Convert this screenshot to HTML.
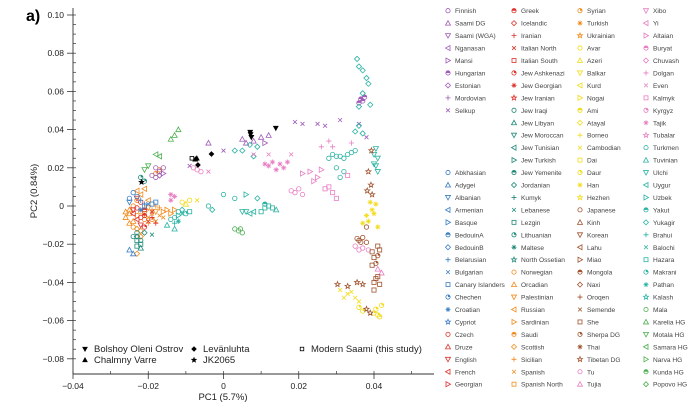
<!DOCTYPE html>
<html><head><meta charset="utf-8">
<style>
html,body{margin:0;padding:0;background:#fff;}
svg{display:block;font-family:"Liberation Sans",Arial,sans-serif;}
</style></head>
<body>
<svg id="chart" width="700" height="409" viewBox="0 0 700 409" xmlns="http://www.w3.org/2000/svg">
<text x="26" y="21" font-size="16" font-weight="bold">a)</text>
<g id="axes"></g>
<g id="points"></g>
<g id="inlegend"></g>
<g id="legend"></g>
<text x="223" y="400" font-size="9.5" text-anchor="middle" fill="#222">PC1 (5.7%)</text>
<text transform="translate(37,191) rotate(-90)" font-size="9.5" text-anchor="middle" fill="#222">PC2 (0.84%)</text>
</svg>
<script>
const xTicks = [-0.04, -0.02, 0, 0.02, 0.04];
const xTickLabels = ["\u22120.04", "\u22120.02", "0", "0.02", "0.04"];
const yTicks = [0.10, 0.08, 0.06, 0.04, 0.02, 0, -0.02, -0.04, -0.06, -0.08];
const yTickLabels = ["0.10", "0.08", "0.06", "0.04", "0.02", "0", "\u22120.02", "\u22120.04", "\u22120.06", "\u22120.08"];

const populations = ["Finnish","Saami DG","Saami (WGA)","Nganasan","Mansi","Hungarian","Estonian","Mordovian","Selkup",
"Abkhasian","Adygei","Albanian","Armenian","Basque","BedouinA","BedouinB","Belarusian","Bulgarian","Canary Islanders","Chechen","Croatian","Cypriot",
"Czech","Druze","English","French","Georgian","Greek","Icelandic","Iranian","Italian_North","Italian South","Jew Ashkenazi","Jew Georgian","Jew Iranian",
"Jew Iraqi","Jew Libyan","Jew Moroccan","Jew Tunisian","Jew Turkish","Jew Yemenite","Jordanian","Kumyk","Lebanese","Lezgin","Lithuanian","Maltese","North Ossetian",
"Norwegian","Orcadian","Palestinian","Russian","Sardinian","Saudi","Scottish","Sicilian","Spanish","Spanish North","Syrian","Turkish","Ukrainian",
"Avar","Azeri","Balkar","Kurd","Nogai","Ami","Atayal","Borneo","Cambodian","Dai","Daur","Han","Hezhen",
"Japanese","Kinh","Korean","Lahu","Miao","Mongola","Naxi","Oroqen","Semende","She","Sherpa DG","Thai","Tibetan DG",
"Tu","Tujia","Xibo","Yi","Altaian","Buryat","Chuvash","Dolgan","Even","Kalmyk","Kyrgyz","Tajik","Tubalar",
"Turkmen","Tuvinian","Ulchi","Uygur","Uzbek","Yakut","Yukagir","Brahui","Balochi","Hazara","Makrani","Pathan","Kalash",
"Mala","Karelia HG","Motala HG","Samara HG","Narva HG","Kunda HG","Popovo HG"];
const groupColors = ["#3b7fc4","#e0302a","#1f8a78","#f28a1c","#f2dc1a","#a0522d","#e87fc2","#2bb3a3","#4caf50"];
const purple = "#a05cb8";

const ptsOrange = [
 ["Orcadian",[[-0.026,-0.006],[-0.025,-0.004],[-0.024,-0.008],[-0.025,-0.002],[-0.026,-0.003],[-0.025,-0.009]]],
 ["Norwegian",[[-0.023,-0.005],[-0.022,-0.003],[-0.024,0.0],[-0.023,0.003],[-0.024,-0.011],[-0.021,-0.007]]],
 ["Spanish",[[-0.02,-0.006],[-0.019,-0.004],[-0.018,-0.008],[-0.017,-0.005],[-0.016,-0.006]]],
 ["Sardinian",[[-0.016,-0.003],[-0.015,-0.002],[-0.014,-0.004],[-0.013,-0.002]]],
 ["Sicilian",[[-0.019,-0.002],[-0.018,0.0],[-0.02,-0.009],[-0.017,-0.001]]],
 ["Russian",[[-0.022,0.006],[-0.021,0.009],[-0.02,0.003],[-0.023,0.008]]],
 ["Scottish",[[-0.023,-0.012],[-0.022,-0.016],[-0.023,-0.025],[-0.022,-0.013]]],
 ["Syrian",[[-0.018,0.017],[-0.017,0.019],[-0.019,-0.007]]],
 ["Palestinian",[[-0.021,-0.004],[-0.02,-0.001],[-0.018,-0.003]]]
];
const ptsRed = [
 ["Czech",[[-0.023,-0.001],[-0.022,0.002],[-0.022,-0.006]]],
 ["French",[[-0.024,-0.004],[-0.023,-0.007]]],
 ["English",[[-0.023,0.004],[-0.022,-0.01],[-0.024,-0.002]]],
 ["Greek",[[-0.021,-0.005],[-0.021,-0.002]]],
 ["Italian_North",[[-0.02,-0.008],[-0.019,-0.003]]],
 ["Iranian",[[-0.018,-0.009],[-0.019,-0.006]]],
 ["Jew Ashkenazi",[[-0.021,-0.011]]]
];
const ptsBlue = [
 ["Abkhasian",[[-0.024,0.007],[-0.023,0.005],[-0.025,0.004]]],
 ["Adygei",[[-0.024,-0.025],[-0.025,-0.023]]],
 ["Albanian",[[-0.025,0.002]]],
 ["Belarusian",[[-0.022,0.003],[-0.021,0.001]]],
 ["Bulgarian",[[-0.02,0.001]]],
 ["Canary Islanders",[[-0.021,0.0],[-0.019,0.001],[-0.018,0.002]]],
 ["Croatian",[[-0.022,-0.002]]]
];
const ptsDarkTeal = [
 ["Jew Iraqi",[[-0.023,-0.014],[-0.022,-0.018],[-0.024,-0.016]]],
 ["Lezgin",[[-0.023,-0.021],[-0.022,-0.02],[-0.023,-0.018]]],
 ["Jew Libyan",[[-0.022,-0.022]]],
 ["Jordanian",[[-0.023,-0.016],[-0.021,-0.014]]],
 ["Lithuanian",[[-0.022,0.015],[-0.021,0.013]]],
 ["Lebanese",[[-0.019,-0.015]]]
];
const ptsPurple = [
 ["Finnish",[[-0.018,0.02],[-0.017,0.018],[-0.019,0.016],[-0.016,0.02],[-0.018,0.015]]],
 ["Mansi",[[-0.016,0.017],[0.011,0.033]]],
 ["Estonian",[[-0.017,0.016]]],
 ["Saami DG",[[0.006,0.033],[0.008,0.034],[0.01,0.036],[0.012,0.037],[0.005,0.035],[-0.004,0.033]]],
 ["Selkup",[[0.0,0.029],[0.019,0.044],[0.021,0.043],[0.025,0.043],[0.027,0.042],[0.031,0.045],[0.036,0.043],[0.038,0.036],[-0.009,0.021]]],
 ["Hungarian",[[0.0365,0.056],[0.037,0.055],[0.0375,0.057],[0.036,0.054]]]
];
const ptsPink = [
 ["Tajik",[[-0.014,0.006],[-0.013,0.005],[-0.014,0.003],[0.012,0.021],[0.013,0.023],[0.015,0.022],[0.016,0.02],[0.017,0.023],[0.014,0.019],[0.011,0.022]]],
 ["Tu",[[-0.008,0.02],[-0.007,0.019],[-0.006,0.018],[0.019,0.007],[0.02,0.009],[0.021,0.006],[0.018,0.008],[0.035,-0.021],[0.036,-0.023],[0.037,-0.022],[0.0385,-0.023]]],
 ["Even",[[0.008,0.027],[0.012,0.027],[0.018,0.027],[-0.004,0.018]]],
 ["Altaian",[[0.021,0.017],[0.023,0.018],[0.025,0.015],[0.024,0.013],[0.026,0.019]]],
 ["Kalmyk",[[0.027,0.009],[0.029,0.007],[0.03,0.004],[0.028,0.01],[0.033,0.016]]],
 ["Dolgan",[[0.026,0.031],[0.028,0.034],[0.029,0.031],[0.034,0.033]]],
 ["Tujia",[[0.041,-0.033],[0.042,-0.035]]]
];
const ptsTeal = [
 ["Turkmen",[[-0.014,-0.007],[-0.013,-0.006],[-0.012,-0.003],[-0.004,0.0],[0.0,0.006],[0.003,0.004],[0.028,0.025],[0.029,0.027],[0.03,0.026],[0.031,0.026],[0.032,0.025],[0.033,0.027],[0.034,0.028],[0.035,0.029],[0.03,0.02],[0.032,0.018],[0.031,0.015]]],
 ["Tuvinian",[[-0.015,-0.01],[-0.013,-0.012],[0.014,-0.002]]],
 ["Uzbek",[[-0.012,-0.005],[0.006,0.006]]],
 ["Yukagir",[[-0.011,-0.002],[-0.003,-0.002],[0.009,0.004],[0.003,0.029],[0.005,0.029],[0.007,0.032],[0.008,0.026],[0.009,0.031],[0.0355,0.077],[0.036,0.073],[0.037,0.071],[0.038,0.067],[0.0385,0.064],[0.037,0.059],[0.036,0.052],[0.039,0.053],[0.036,0.042],[0.035,0.039],[0.037,0.038]]],
 ["Brahui",[[-0.013,-0.009]]],
 ["Balochi",[[-0.011,-0.004]]],
 ["Hazara",[[-0.009,-0.003],[0.011,-0.001],[0.012,0.0],[0.01,-0.003],[0.013,-0.001]]],
 ["Makrani",[[-0.01,-0.004]]],
 ["Pathan",[[-0.012,-0.008]]],
 ["Ulchi",[[0.005,-0.003],[0.006,-0.003],[0.0405,0.03],[0.04,0.027],[0.041,0.025],[0.0405,0.021],[0.041,0.018],[0.04,0.022]]],
 ["Uygur",[[0.007,-0.004],[0.008,-0.003]]],
 ["Yakut",[[0.011,0.001]]]
];
const ptsYellow = [
 ["Avar",[[-0.011,0.002],[-0.009,0.003]]],
 ["Azeri",[[-0.01,0.001]]],
 ["Cambodian",[[-0.007,0.003],[0.031,-0.044],[0.033,-0.046],[0.035,-0.048],[0.036,-0.05],[0.034,-0.045],[0.032,-0.048]]],
 ["Han",[[0.039,0.002],[0.0395,-0.002],[0.038,-0.005],[0.0385,-0.008],[0.0405,0.001],[0.04,-0.004],[0.037,-0.009],[0.041,-0.011]]],
 ["Daur",[[0.036,-0.053],[0.037,-0.055],[0.0405,-0.054],[0.041,-0.057],[0.0415,-0.058],[0.04,-0.056],[0.042,-0.052]]]
];
const ptsBrown = [
 ["Tibetan DG",[[0.0393,0.029],[0.0385,0.018],[0.0392,0.011],[0.0382,0.008],[0.0395,0.006],[0.0303,-0.041],[0.033,-0.042],[0.0355,-0.04],[0.037,-0.041],[0.038,-0.054],[0.039,-0.056]]],
 ["Japanese",[[0.0355,-0.017],[0.036,-0.018],[0.037,-0.0165],[0.038,-0.019],[0.0365,-0.019],[0.038,-0.011]]],
 ["She",[[0.0395,-0.024],[0.041,-0.021],[0.0415,-0.023],[0.04,-0.027],[0.0395,-0.031],[0.04,-0.04],[0.041,-0.037],[0.0415,-0.041],[0.04,-0.044],[0.0405,-0.038]]],
 ["Sherpa DG",[[0.041,-0.026],[0.0405,-0.03]]]
];
const ptsGreen = [
 ["Mala",[[0.003,-0.012],[0.004,-0.013],[0.005,-0.014],[0.0045,-0.012]]],
 ["Motala HG",[[-0.02,0.021],[-0.021,0.019]]],
 ["Samara HG",[[-0.018,0.027],[-0.017,0.026]]],
 ["Karelia HG",[[-0.013,0.037],[-0.012,0.04],[-0.014,0.035]]]
];
const ancientNames = ["Bolshoy Oleni Ostrov","Chalmny Varre","Levänluhta","JK2065","Modern Saami (this study)"];
const ancientPc1 = [[0.0071,0.0074,0.0139,0.0072],[-0.0071,-0.0075],[-0.0068,-0.0032],[-0.0218],[-0.0084]];
const ancientPc2 = [[0.0387,0.036,0.0408,0.0375],[0.025,0.0245],[0.0215,0.0272],[0.0125],[0.025]];

const NS="http://www.w3.org/2000/svg";
function X(v){return 73+(v+0.04)/0.08*301;}
function Y(v){return 206-v/0.01*19.1;}
function mk(tag,attrs,parent){const e=document.createElementNS(NS,tag);for(const k in attrs)e.setAttribute(k,attrs[k]);parent.appendChild(e);return e;}

function popStyle(name){
 const i=populations.indexOf(name);
 if(i<9)return {shape:i,color:purple};
 const k=i-9;return {shape:k%13,color:groupColors[Math.floor(k/13)]};
}
function marker(parent,shape,cx,cy,r,color,filled){
 const f=filled?color:"none";const sw=0.8;
 const base={fill:f,stroke:color,"stroke-width":sw};
 let e;
 const pts=a=>a.map(p=>(cx+p[0]*r).toFixed(2)+","+(cy+p[1]*r).toFixed(2)).join(" ");
 switch(shape){
 case 0:e=mk("circle",Object.assign({cx,cy,r:r*0.85},base),parent);break;
 case 1:e=mk("polygon",Object.assign({points:pts([[0,-1],[1,0.8],[-1,0.8]])},base),parent);break;
 case 2:e=mk("polygon",Object.assign({points:pts([[0,1],[1,-0.8],[-1,-0.8]])},base),parent);break;
 case 3:e=mk("polygon",Object.assign({points:pts([[-1,0],[0.8,-1],[0.8,1]])},base),parent);break;
 case 4:e=mk("polygon",Object.assign({points:pts([[1,0],[-0.8,-1],[-0.8,1]])},base),parent);break;
 case 5:{e=mk("g",{},parent);mk("circle",Object.assign({cx,cy,r:r*0.85},base),e);
   mk("path",{d:`M${cx-r*0.85},${cy} A${r*0.85},${r*0.85} 0 0 1 ${cx+r*0.85},${cy} Z`,fill:color},e);break;}
 case 6:e=mk("polygon",Object.assign({points:pts([[0,-1],[1,0],[0,1],[-1,0]])},base),parent);break;
 case 7:e=mk("path",{d:`M${cx-r},${cy}H${cx+r}M${cx},${cy-r}V${cy+r}`,stroke:color,"stroke-width":sw,fill:"none"},parent);break;
 case 8:e=mk("path",{d:`M${cx-r*0.75},${cy-r*0.75}L${cx+r*0.75},${cy+r*0.75}M${cx-r*0.75},${cy+r*0.75}L${cx+r*0.75},${cy-r*0.75}`,stroke:color,"stroke-width":sw,fill:"none"},parent);break;
 case 9:e=mk("rect",Object.assign({x:cx-r*0.8,y:cy-r*0.8,width:r*1.6,height:r*1.6},base),parent);break;
 case 10:{e=mk("g",{},parent);mk("circle",Object.assign({cx,cy,r:r*0.85},base),e);
   mk("path",{d:`M${cx},${cy} L${cx},${cy-r*0.85} A${r*0.85},${r*0.85} 0 0 1 ${cx+r*0.85},${cy} Z`,fill:color},e);break;}
 case 11:e=mk("path",{d:`M${cx-r},${cy}H${cx+r}M${cx},${cy-r}V${cy+r}M${cx-r*0.7},${cy-r*0.7}L${cx+r*0.7},${cy+r*0.7}M${cx-r*0.7},${cy+r*0.7}L${cx+r*0.7},${cy-r*0.7}`,stroke:color,"stroke-width":sw,fill:"none"},parent);break;
 case 12:{const a=[];for(let j=0;j<10;j++){const ang=-Math.PI/2+j*Math.PI/5;const rr=j%2?0.45:1.05;a.push([Math.cos(ang)*rr,Math.sin(ang)*rr]);}
   e=mk("polygon",Object.assign({points:pts(a)},base),parent);break;}
 }
 return e;
}

const ax=document.getElementById("axes");
const yl=mk("line",{x1:73,y1:8,x2:73,y2:374,stroke:"#333","stroke-width":0.9},ax);


const xl=mk("line",{x1:73,y1:374,x2:434,y2:374,stroke:"#333","stroke-width":0.9},ax);


for(let v=-0.08;v<=0.1001;v+=0.005){const y=Y(v);mk("line",{x1:73,y1:y,x2:76,y2:y,stroke:"#333","stroke-width":0.7},ax);}
for(let v=-0.04;v<=0.0501;v+=0.01){const x=X(v);mk("line",{x1:x,y1:374,x2:x,y2:371,stroke:"#333","stroke-width":0.7},ax);}
yTicks.forEach((v,i)=>{const y=Y(v);mk("line",{x1:67,y1:y,x2:73,y2:y,stroke:"#333","stroke-width":0.8},ax);
 const t=mk("text",{x:64,y:y+3,"font-size":8.5,"text-anchor":"end",fill:"#222"},ax);t.textContent=yTickLabels[i];
 
 });
xTicks.forEach((v,i)=>{const x=X(v);mk("line",{x1:x,y1:374,x2:x,y2:379,stroke:"#333","stroke-width":0.8},ax);
 const t=mk("text",{x:x,y:389,"font-size":8.5,"text-anchor":"middle",fill:"#222"},ax);t.textContent=xTickLabels[i];
 
 });

const pg=document.getElementById("points");
[ptsOrange,ptsRed,ptsBlue,ptsDarkTeal,ptsGreen,ptsPurple,ptsTeal,ptsPink,ptsYellow,ptsBrown].forEach(set=>{
 set.forEach(([name,list])=>{const st=popStyle(name);
  list.forEach(p=>{const m=marker(pg,st.shape,X(p[0]),Y(p[1]),2.6,st.color,false);
   
   });});
});
const ancShapes=[2,1,6,12,9];
ancientNames.forEach((n,i)=>{ancientPc1[i].forEach((x,j)=>{
 const m=marker(pg,ancShapes[i],X(x),Y(ancientPc2[i][j]),2.3,"#000",i!==4);
 
 });});

const il=document.getElementById("inlegend");
const ilPos=[[85,352],[85,363],[194,352],[194,363],[302,352]];
ancientNames.forEach((n,i)=>{const [x,y]=ilPos[i];
 marker(il,ancShapes[i],x,y-3,2.2,"#000",i!==4);
 const t=mk("text",{x:x+9,y:y,"font-size":9.5,fill:"#222"},il);t.textContent=n;
 
 });

const lg=document.getElementById("legend");
const colX=[448,514,580,646];
populations.forEach((n,i)=>{let col,row;
 if(i<9){col=0;row=i;}else{const k=i-9;if(k<18){col=0;row=13+k;}else{col=1+Math.floor((k-18)/31);row=(k-18)%31;}}
 const x=colX[col],y=10.7+row*12.45;const st=popStyle(n);
 const g=mk("g",{},lg);
 
 
 marker(g,st.shape,x,y,2.5,st.color,false);
 const t=mk("text",{x:x+7,y:y+2.5,"font-size":6.6,fill:"#444"},g);t.textContent=n.replace("_"," ");
});
</script>
</body></html>
